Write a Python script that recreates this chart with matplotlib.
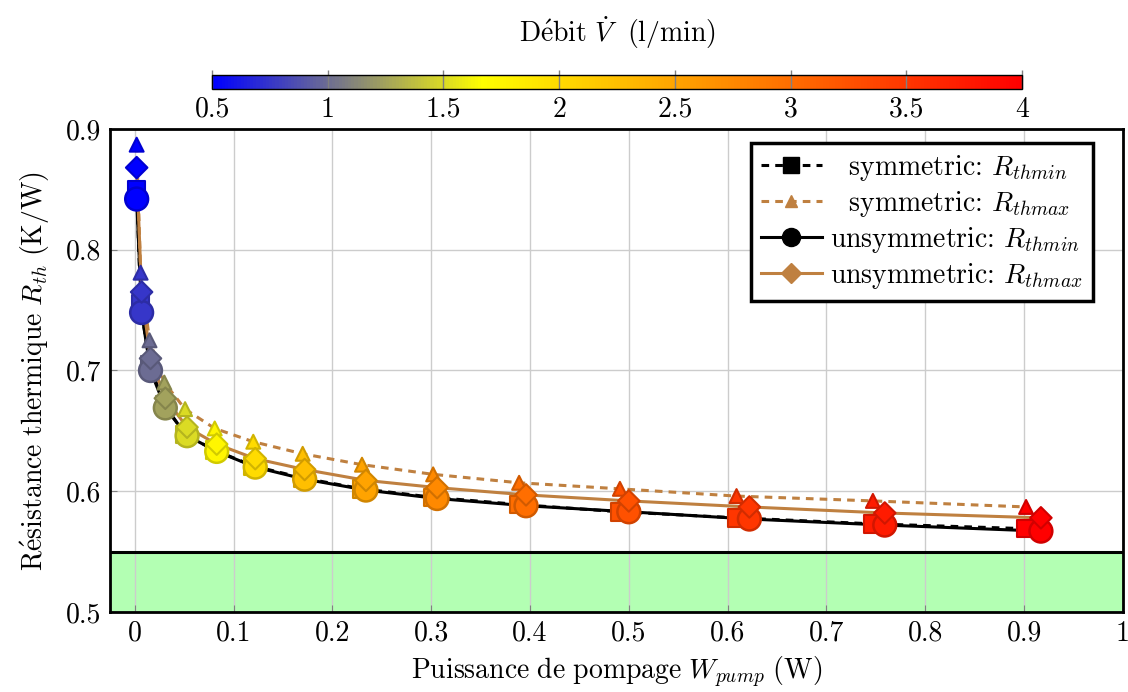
import matplotlib
matplotlib.use('Agg')
import numpy as np
import matplotlib.pyplot as plt
from matplotlib.colors import LinearSegmentedColormap, Normalize
from matplotlib.lines import Line2D

plt.rcParams['font.family'] = ['cmr10', 'DejaVu Serif']
plt.rcParams['mathtext.fontset'] = 'cm'
plt.rcParams['axes.formatter.use_mathtext'] = True

# flow rate (l/min) for each measurement
flow = [0.5, 0.75, 1.0, 1.25, 1.5, 1.75, 2.0, 2.25, 2.5, 2.75, 3.0, 3.25, 3.5, 3.75, 4.0]

# pump power (W)
w_sym = [0.002, 0.006, 0.015, 0.030, 0.051, 0.081, 0.120, 0.170, 0.230, 0.302, 0.389, 0.491, 0.609, 0.747, 0.902]
w_unsym = [0.002, 0.007, 0.016, 0.031, 0.053, 0.083, 0.122, 0.172, 0.234, 0.306, 0.396, 0.500, 0.622, 0.759, 0.917]

# thermal resistance (K/W)
sym_rmin = [0.850, 0.755, 0.705, 0.672, 0.647, 0.634, 0.621, 0.611, 0.602, 0.595, 0.589, 0.583, 0.578, 0.573, 0.569]
sym_rmax = [0.887, 0.781, 0.725, 0.690, 0.668, 0.652, 0.641, 0.631, 0.622, 0.614, 0.607, 0.602, 0.596, 0.592, 0.587]
unsym_rmin = [0.842, 0.748, 0.700, 0.669, 0.646, 0.633, 0.620, 0.610, 0.601, 0.594, 0.588, 0.583, 0.577, 0.572, 0.567]
unsym_rmax = [0.868, 0.765, 0.710, 0.677, 0.653, 0.639, 0.627, 0.618, 0.609, 0.603, 0.597, 0.592, 0.587, 0.582, 0.578]

x_ticks = [0, 0.1, 0.2, 0.3, 0.4, 0.5, 0.6, 0.7, 0.8, 0.9, 1]
x_labels = ['0', '0.1', '0.2', '0.3', '0.4', '0.5', '0.6', '0.7', '0.8', '0.9', '1']
y_ticks = [0.5, 0.6, 0.7, 0.8, 0.9]
y_labels = ['0.5', '0.6', '0.7', '0.8', '0.9']
cb_ticks = [0.5, 1, 1.5, 2, 2.5, 3, 3.5, 4]
cb_labels = ['0.5', '1', '1.5', '2', '2.5', '3', '3.5', '4']

brown = (0.75, 0.5, 0.25)
cmap = LinearSegmentedColormap.from_list('hot2', [(0, 0, 1), (1, 1, 0), (1, 0.5, 0), (1, 0, 0)])
norm = Normalize(vmin=0.5, vmax=4)
fs = 20

fig = plt.figure(figsize=(11.28, 6.92), dpi=100)
ax = fig.add_axes([0.0975, 0.1156, 0.898, 0.698])

ax.axhspan(0.5, 0.55, color='#b3ffb3', zorder=0)
ax.axhline(0.55, color='black', lw=2.2, zorder=1)

ax.plot(w_unsym, unsym_rmin, color='black', lw=2.2, zorder=2)
ax.plot(w_sym, sym_rmin, color='black', lw=2.2, ls=(0, (2.5, 2)), zorder=2)
ax.plot(w_unsym, unsym_rmax, color=brown, lw=2.2, zorder=2)
ax.plot(w_sym, sym_rmax, color=brown, lw=2.2, ls=(0, (2.5, 2)), zorder=2)

fc = cmap(norm(np.array(flow)))
ec = fc.copy()
ec[:, :3] = ec[:, :3] * 0.82

ax.scatter(w_sym, sym_rmin, c=fc, edgecolors=ec, marker='s', s=160, linewidths=1.5, zorder=3)
ax.scatter(w_sym, sym_rmax, c=fc, edgecolors=ec, marker='^', s=100, linewidths=1.5, zorder=3)
ax.scatter(w_unsym, unsym_rmin, c=fc, edgecolors=ec, marker='o', s=270, linewidths=1.8, zorder=3)
ax.scatter(w_unsym, unsym_rmax, c=fc, edgecolors=ec, marker='D', s=120, linewidths=1.5, zorder=3)

ax.set_xlim(-0.025, 1)
ax.set_ylim(0.5, 0.9)
ax.set_xticks(x_ticks)
ax.set_xticklabels(x_labels)
ax.set_yticks(y_ticks)
ax.set_yticklabels(y_labels)
ax.tick_params(direction='in', labelsize=fs, length=5, color='gray', pad=6)
ax.grid(True, color='#cccccc', lw=1)
ax.set_axisbelow(True)
for s in ax.spines.values():
    s.set_linewidth(2)

ax.set_xlabel(r'$\mathrm{Puissance\ de\ pompage}\ W_{pump}\ \mathrm{(W)}$', fontsize=fs, labelpad=6)
ax.set_ylabel(r'$\mathrm{R\acute{e}sistance\ thermique}\ R_{th}\ \mathrm{(K/W)}$', fontsize=fs, labelpad=10)

handles = [
    Line2D([], [], color='black', lw=2.2, ls=(0, (2.5, 2)), marker='s', ms=11),
    Line2D([], [], color=brown, lw=2.2, ls=(0, (2.5, 2)), marker='^', ms=9),
    Line2D([], [], color='black', lw=2.2, marker='o', ms=13),
    Line2D([], [], color=brown, lw=2.2, marker='D', ms=10),
]
labels = ['  symmetric: $R_{thmin}$', '  symmetric: $R_{thmax}$',
          'unsymmetric: $R_{thmin}$', 'unsymmetric: $R_{thmax}$']
leg = ax.legend(handles, labels, loc='upper right', bbox_to_anchor=(0.970, 0.971), fontsize=fs,
                fancybox=False, edgecolor='black', framealpha=1, handlelength=2.2,
                handletextpad=0.3, borderpad=0.35, labelspacing=0.22, borderaxespad=0)
leg.get_frame().set_linewidth(2.5)

cax = fig.add_axes([0.188, 0.871, 0.718, 0.0202])
sm = plt.cm.ScalarMappable(norm=norm, cmap=cmap)
cb = fig.colorbar(sm, cax=cax, orientation='horizontal')
cb.set_ticks(cb_ticks)
cb.set_ticklabels(cb_labels)
cax.tick_params(labelsize=fs, direction='in', length=14, color='gray', width=1, pad=5)
cb.outline.set_linewidth(1)
cax.set_title(r'$\mathrm{D\acute{e}bit}\ \dot{V}\ \ \mathrm{(l/min)}$', fontsize=fs, pad=24)

fig.savefig('out.png', dpi=100)
